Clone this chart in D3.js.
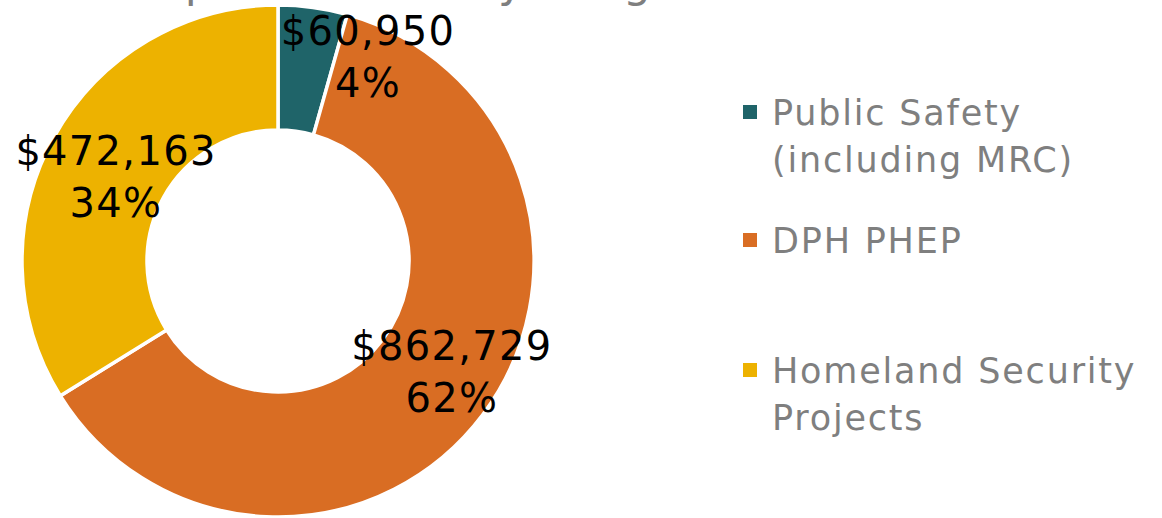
<!DOCTYPE html>
<html>
<head>
<meta charset="utf-8">
<script src="https://cdn.jsdelivr.net/npm/d3@7"></script>
<style>
  body { margin: 0; background: #fff; }
  text { font-family: "DejaVu Sans", Verdana, sans-serif; }
</style>
</head>
<body>
<div id="chart"></div>
<script>
let categories = ["Public Safety (including MRC)", "DPH PHEP", "Homeland Security Projects"]
let values = [60950, 862729, 472163]
let legendLines = [["Public Safety", "(including MRC)"], ["DPH PHEP"], ["Homeland Security", "Projects"]]
let colors = ["#1f6469", "#d96d23", "#edb200"]

let width = 1162
let height = 518
let cx = 278, cy = 261
let outer = 256, inner = 131

let svg = d3.select("#chart")
    .append("svg")
    .attr("width", width)
    .attr("height", height)

// title is cut off at the top of the picture, only descenders show
svg.append("text")
    .attr("x", 125)
    .attr("y", -3)
    .style("font-size", "44px")
    .style("letter-spacing", "3px")
    .style("fill", "#7f7f7f")
    .text("Expenditures by Program")

let color = d3.scaleOrdinal().domain(categories).range(colors)
let total = d3.sum(values)
let data = categories.map((c, i) => ({ key: c, value: values[i] }))

let pie = d3.pie().sort(null).value(d => d.value)
let arcs = pie(data)
let arc = d3.arc().innerRadius(inner).outerRadius(outer)

let g = svg.append("g").attr("transform", "translate(" + cx + "," + cy + ")")
g.selectAll("path")
    .data(arcs)
    .enter()
    .append("path")
    .attr("d", arc)
    .attr("fill", d => color(d.data.key))
    .attr("stroke", "#fff")
    .attr("stroke-width", 3.5)

// data label positions (offset from center)
let labelPos = [[90, -216], [174, 99], [-162, -96]]
let fmt = d3.format("$,")
let labels = g.selectAll(".lbl")
    .data(arcs)
    .enter()
    .append("text")
    .attr("class", "lbl")
    .attr("text-anchor", "middle")
    .style("font-size", "40px")
    .style("letter-spacing", "1.3px")
    .style("fill", "#000")
labels.append("tspan")
    .attr("x", (d, i) => labelPos[i][0])
    .attr("y", (d, i) => labelPos[i][1])
    .text(d => fmt(d.data.value))
labels.append("tspan")
    .attr("x", (d, i) => labelPos[i][0])
    .attr("dy", 52)
    .text(d => Math.round(d.data.value / total * 100) + "%")

// legend
let legendY = [125, 253, 383]
let leg = svg.selectAll(".leg")
    .data(categories)
    .enter()
    .append("g")
    .attr("class", "leg")
    .attr("transform", (d, i) => "translate(743," + legendY[i] + ")")
leg.append("rect")
    .attr("x", 0)
    .attr("y", -20)
    .attr("width", 14)
    .attr("height", 14)
    .attr("fill", d => color(d))
leg.append("text")
    .style("font-size", "35px")
    .style("letter-spacing", "1.8px")
    .style("fill", "#7f7f7f")
    .selectAll("tspan")
    .data((d, i) => legendLines[i])
    .enter()
    .append("tspan")
    .attr("x", 29)
    .attr("y", (d, j) => j * 47)
    .text(d => d)
</script>
</body>
</html>
